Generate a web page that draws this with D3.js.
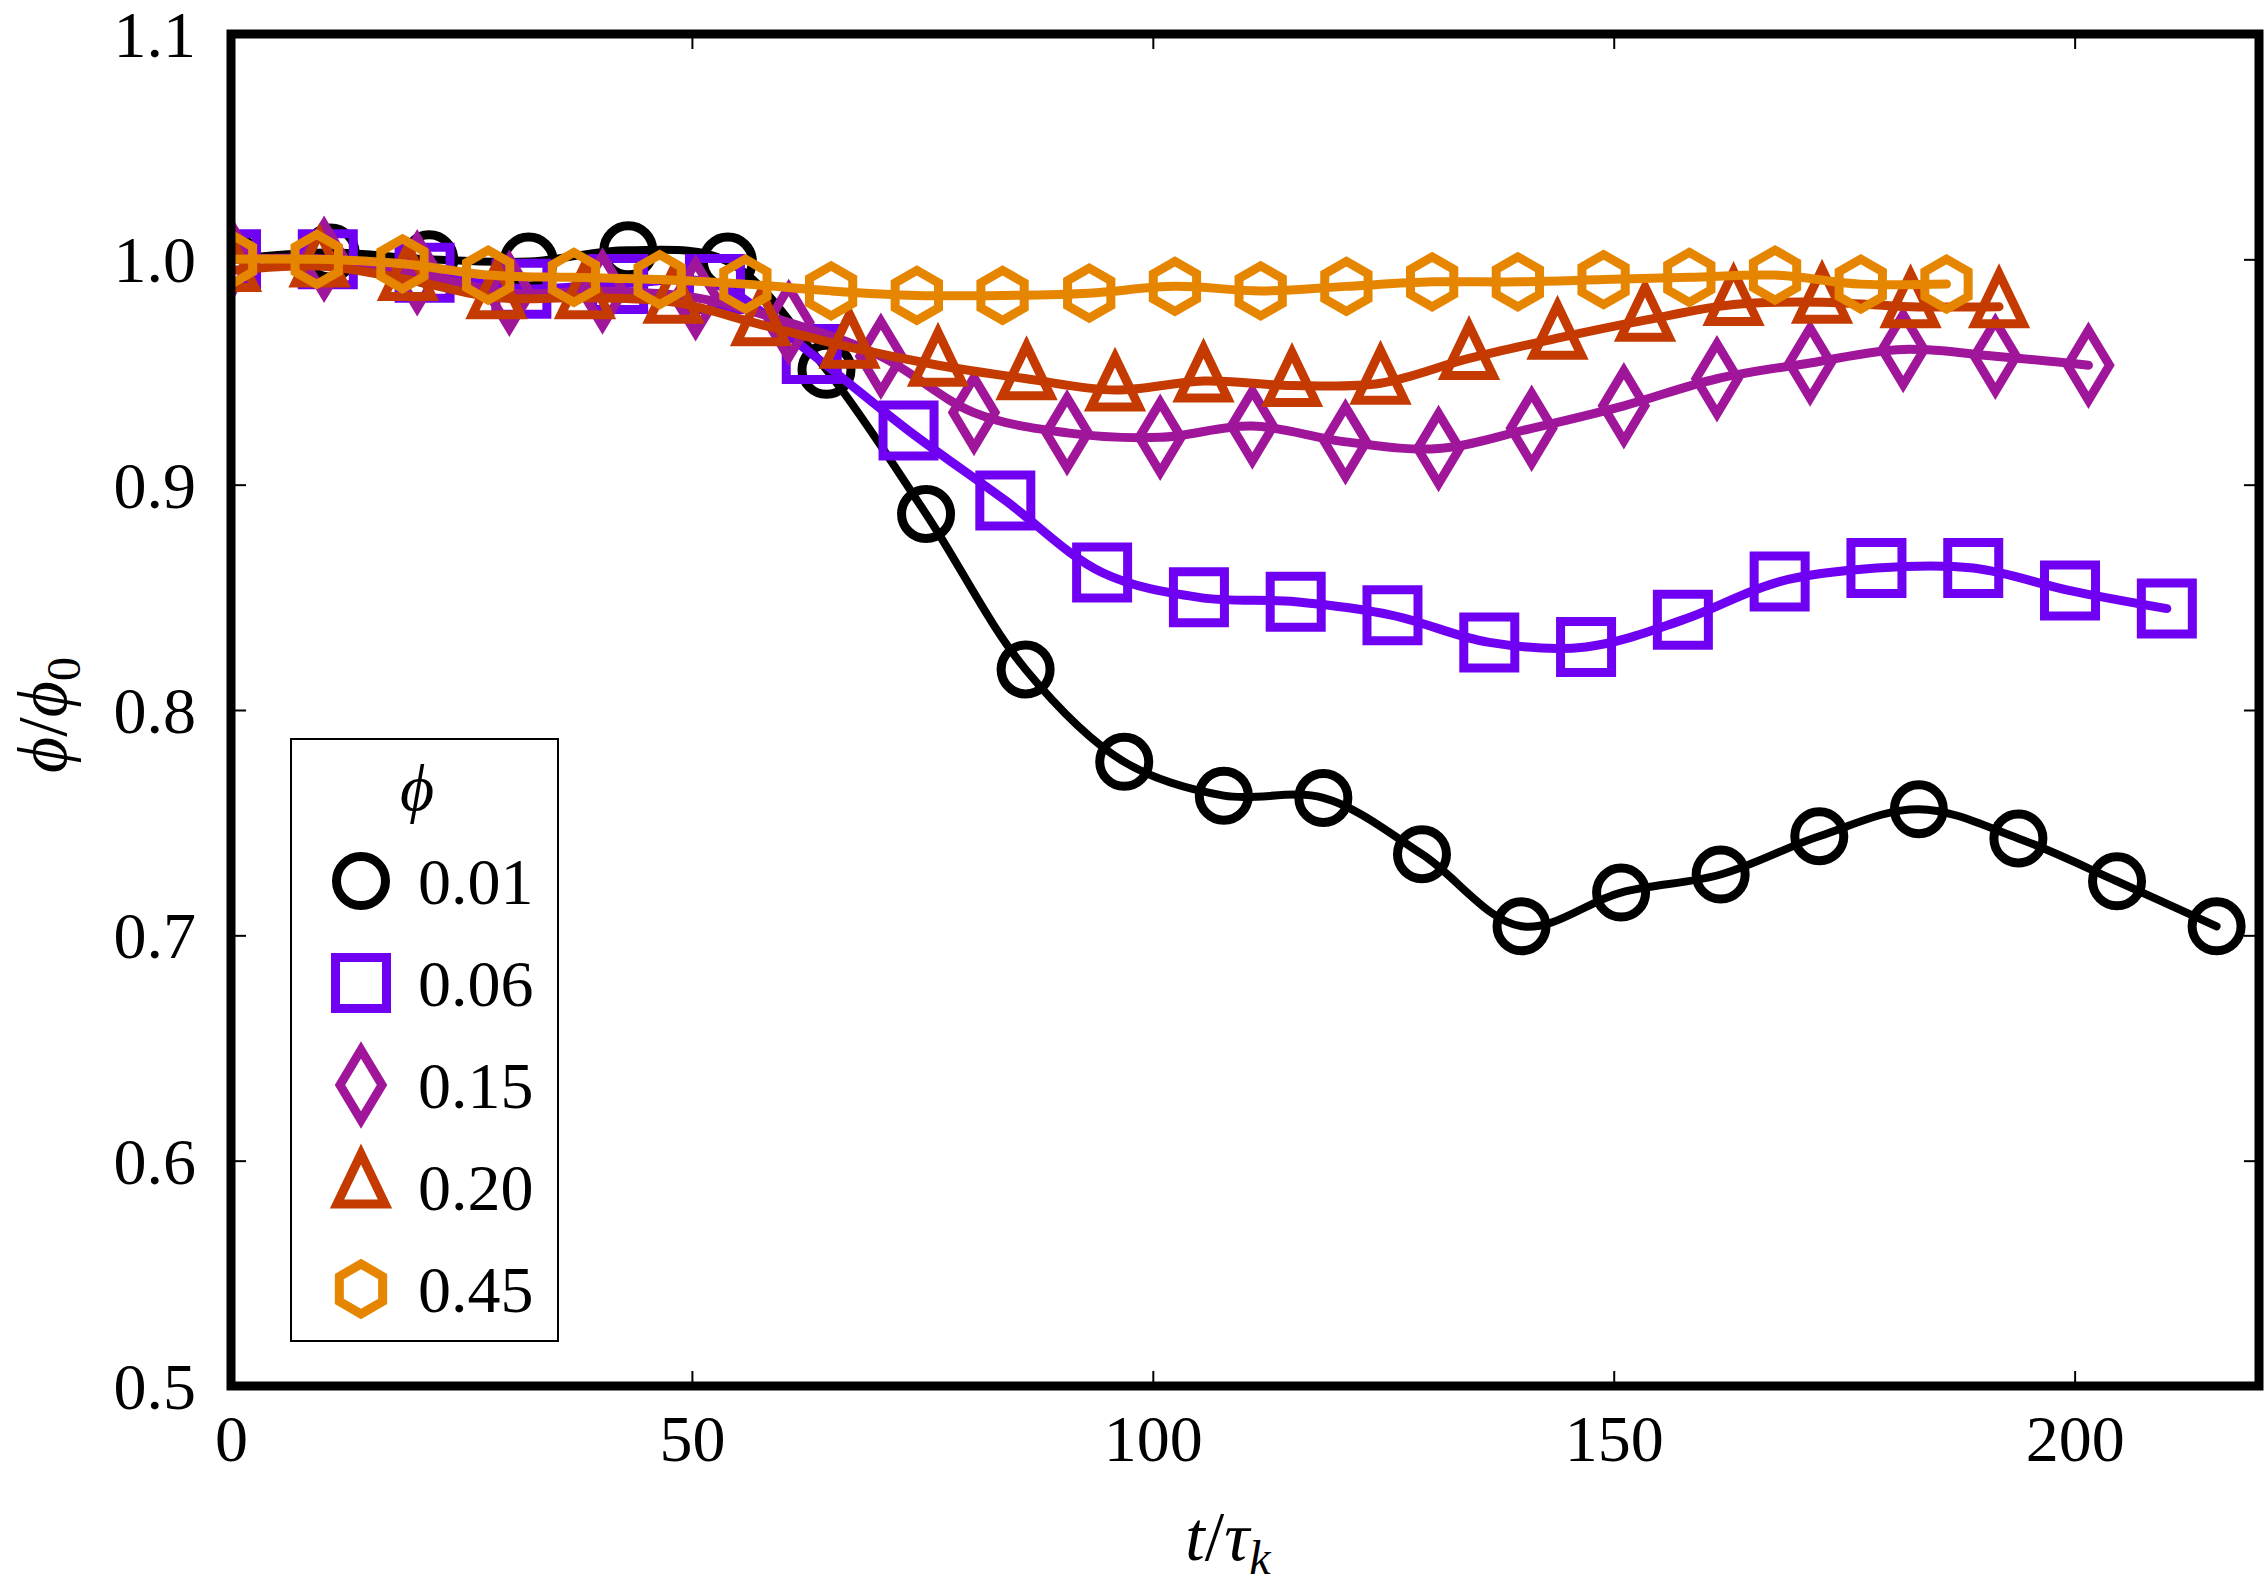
<!DOCTYPE html>
<html>
<head>
<meta charset="utf-8">
<script src="https://cdn.jsdelivr.net/npm/d3@7"></script>
<style>
  body { margin: 0; background: #fff; }
  svg { display: block; }
  text { font-family: 'Liberation Serif', 'Times New Roman', serif; }
</style>
</head>
<body>
<div id="chart"></div>
<script>
'use strict'

// series labels (phi) and colours
const phiLabels = ['0.01', '0.06', '0.15', '0.20', '0.45'];
const colors = ['#000000', '#7000f2', '#a0169a', '#c43a00', '#e68600'];

// t / tau_k sample times (one per marker) and phi/phi0 values
const t001 = [0, 10.8, 21.5, 32.3, 43.1, 53.9, 64.6, 75.4, 86.2, 96.9, 107.7, 118.5, 129.2, 140.0, 150.8, 161.6, 172.3, 183.1, 193.9, 204.6, 215.4];
const phi001 = [1.000, 1.003, 1.000, 0.999, 1.004, 0.999, 0.951, 0.887, 0.818, 0.777, 0.762, 0.761, 0.736, 0.704, 0.719, 0.727, 0.744, 0.756, 0.743, 0.724, 0.704];

const t006 = [0, 10.5, 21.0, 31.5, 42.0, 52.5, 63.0, 73.5, 84.0, 94.5, 105.0, 115.5, 126.0, 136.5, 147.0, 157.5, 168.0, 178.5, 189.0, 199.5, 210.0];
const phi006 = [1.000, 1.000, 0.994, 0.987, 0.989, 0.989, 0.958, 0.924, 0.893, 0.861, 0.850, 0.848, 0.842, 0.830, 0.828, 0.840, 0.857, 0.863, 0.863, 0.853, 0.845];

const t015 = [0, 10.1, 20.2, 30.2, 40.3, 50.4, 60.5, 70.5, 80.6, 90.7, 100.8, 110.8, 120.9, 131.0, 141.1, 151.1, 161.2, 171.3, 181.4, 191.4, 201.5];
const phi015 = [1.000, 1.000, 0.994, 0.985, 0.986, 0.983, 0.972, 0.957, 0.932, 0.923, 0.921, 0.926, 0.919, 0.916, 0.925, 0.935, 0.947, 0.954, 0.960, 0.957, 0.953];

const t020 = [0, 9.6, 19.2, 28.8, 38.4, 48.0, 57.5, 67.1, 76.7, 86.3, 95.9, 105.5, 115.1, 124.7, 134.3, 143.9, 153.4, 163.0, 172.6, 182.2, 191.8];
const phi020 = [0.995, 0.997, 0.991, 0.983, 0.983, 0.981, 0.971, 0.961, 0.953, 0.947, 0.942, 0.946, 0.944, 0.945, 0.956, 0.965, 0.973, 0.980, 0.981, 0.979, 0.979];

const t045 = [0, 9.3, 18.6, 27.9, 37.2, 46.5, 55.8, 65.1, 74.4, 83.7, 93.1, 102.4, 111.7, 121.0, 130.3, 139.6, 148.9, 158.2, 167.5, 176.8, 186.1];
const phi045 = [1.000, 1.000, 0.998, 0.993, 0.992, 0.991, 0.989, 0.986, 0.984, 0.984, 0.985, 0.988, 0.986, 0.988, 0.990, 0.990, 0.991, 0.992, 0.993, 0.989, 0.989];

// axis ticks
const xTicks = [0, 50, 100, 150, 200];
const yTicks = [0.5, 0.6, 0.7, 0.8, 0.9, 1.0, 1.1];

const series = [
  { t: t001, v: phi001, shape: 'circle' },
  { t: t006, v: phi006, shape: 'square' },
  { t: t015, v: phi015, shape: 'diamond' },
  { t: t020, v: phi020, shape: 'triangle' },
  { t: t045, v: phi045, shape: 'hexagon' }
];

const width = 2264;
const height = 1596;
const plot = { left: 231, right: 2259, top: 34, bottom: 1386 };

const x = d3.scaleLinear().domain([0, 220]).range([plot.left, plot.right]);
const y = d3.scaleLinear().domain([0.5, 1.1]).range([plot.bottom, plot.top]);

// marker outlines, centred on the data point
const shapes = {
  circle: 'M24.5,0A24.5,24.5 0 1,1 -24.5,0A24.5,24.5 0 1,1 24.5,0Z',
  square: 'M-25.5,-25.5h51v51h-51Z',
  diamond: 'M0,-35L21,0L0,35L-21,0Z',
  triangle: 'M0,-33L24,17L-24,17Z',
  hexagon: 'M0,-25L21.65,-12.5L21.65,12.5L0,25L-21.65,12.5L-21.65,-12.5Z'
};

const svg = d3.select('#chart').append('svg')
  .attr('width', width)
  .attr('height', height)
  .attr('viewBox', `0 0 ${width} ${height}`);

svg.append('rect').attr('width', width).attr('height', height).attr('fill', '#fff');

svg.append('clipPath').attr('id', 'plot-clip')
  .append('rect')
  .attr('x', plot.left).attr('y', plot.top)
  .attr('width', plot.right - plot.left).attr('height', plot.bottom - plot.top);

// ticks, inward on all four sides
const tickLen = 15;
const fontSize = 66;

const xAxis = svg.append('g')
  .attr('transform', `translate(0,${plot.bottom})`)
  .call(d3.axisBottom(x).tickValues(xTicks).tickSize(-tickLen).tickSizeOuter(0).tickFormat(d3.format('d')));
xAxis.selectAll('text')
  .attr('y', 75).attr('dy', 0)
  .attr('font-size', fontSize).attr('fill', '#000');

const yAxis = svg.append('g')
  .attr('transform', `translate(${plot.left},0)`)
  .call(d3.axisLeft(y).tickValues(yTicks).tickSize(-tickLen).tickSizeOuter(0).tickPadding(35).tickFormat(d3.format('.1f')));
yAxis.selectAll('text')
  .attr('dy', '0.34em')
  .attr('font-size', fontSize).attr('fill', '#000');

svg.append('g')
  .attr('transform', `translate(0,${plot.top})`)
  .call(d3.axisTop(x).tickValues(xTicks).tickSize(-tickLen).tickSizeOuter(0).tickFormat(''));
svg.append('g')
  .attr('transform', `translate(${plot.right},0)`)
  .call(d3.axisRight(y).tickValues(yTicks).tickSize(-tickLen).tickSizeOuter(0).tickFormat(''));

svg.selectAll('.domain').remove();
svg.selectAll('.tick line').attr('stroke', '#000').attr('stroke-width', 2);

// data
const line = d3.line()
  .x(d => x(d.t))
  .y(d => y(d.v))
  .curve(d3.curveCatmullRom.alpha(0.5));

const dataLayer = svg.append('g').attr('clip-path', 'url(#plot-clip)');

series.forEach((s, i) => {
  const pts = s.t.map((t, j) => ({ t: t, v: s.v[j] }));
  const g = dataLayer.append('g');

  g.append('path')
    .datum(pts)
    .attr('d', line)
    .attr('fill', 'none')
    .attr('stroke', colors[i])
    .attr('stroke-width', i === 0 ? 8 : 9)
    .attr('stroke-linejoin', 'round')
    .attr('stroke-linecap', 'round');

  g.selectAll('path.marker')
    .data(pts)
    .join('path')
    .attr('class', 'marker')
    .attr('d', shapes[s.shape])
    .attr('transform', d => `translate(${x(d.t)},${y(d.v)})`)
    .attr('fill', 'none')
    .attr('stroke', colors[i])
    .attr('stroke-width', 9);
});

// frame
svg.append('rect')
  .attr('x', plot.left).attr('y', plot.top)
  .attr('width', plot.right - plot.left).attr('height', plot.bottom - plot.top)
  .attr('fill', 'none')
  .attr('stroke', '#000')
  .attr('stroke-width', 9);

// legend
const legend = svg.append('g');
legend.append('rect')
  .attr('x', 291).attr('y', 739)
  .attr('width', 267).attr('height', 602)
  .attr('fill', '#fff')
  .attr('stroke', '#000')
  .attr('stroke-width', 2);

legend.append('text')
  .attr('x', 417).attr('y', 810)
  .attr('text-anchor', 'middle')
  .attr('font-size', fontSize)
  .attr('font-style', 'italic')
  .text('\u03d5');

const rows = legend.selectAll('g.row')
  .data(series)
  .join('g')
  .attr('class', 'row')
  .attr('transform', (d, i) => `translate(361,${881 + 102 * i})`);

rows.append('path')
  .attr('d', d => shapes[d.shape])
  .attr('fill', 'none')
  .attr('stroke', (d, i) => colors[i])
  .attr('stroke-width', 9);

rows.append('text')
  .attr('x', 57).attr('y', 23)
  .attr('font-size', fontSize)
  .text((d, i) => phiLabels[i]);

// axis titles
const xLabel = svg.append('text')
  .attr('x', 1228).attr('y', 1560)
  .attr('text-anchor', 'middle')
  .attr('font-size', 70);
xLabel.append('tspan').attr('font-style', 'italic').text('t');
xLabel.append('tspan').text('/');
xLabel.append('tspan').attr('font-style', 'italic').text('\u03c4');
xLabel.append('tspan').attr('font-style', 'italic').attr('font-size', 48).attr('dy', 14).text('k');

const yLabel = svg.append('text')
  .attr('transform', 'translate(66,715) rotate(-90)')
  .attr('text-anchor', 'middle')
  .attr('font-size', 70);
yLabel.append('tspan').attr('font-style', 'italic').text('\u03d5');
yLabel.append('tspan').text('/');
yLabel.append('tspan').attr('font-style', 'italic').text('\u03d5');
yLabel.append('tspan').attr('font-size', 48).attr('dy', 14).text('0');

</script>
</body>
</html>
